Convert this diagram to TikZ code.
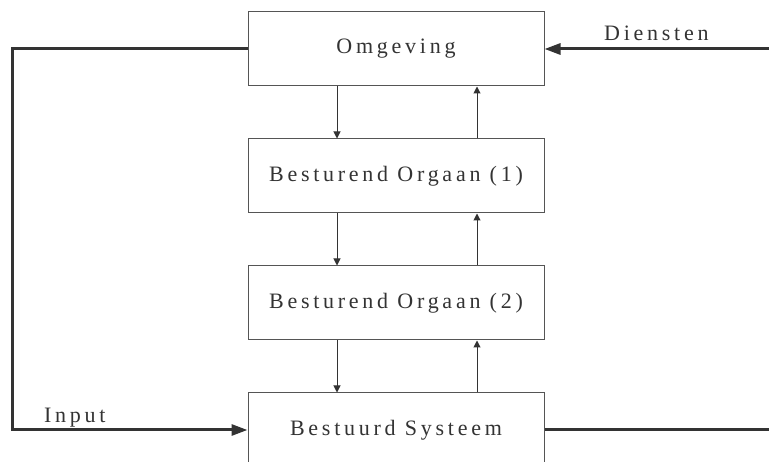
\documentclass[tikz,border=0pt]{standalone}
\usepackage{fontspec}
\setmainfont{Liberation Serif}[LetterSpace=17]
\usetikzlibrary{arrows.meta}
\definecolor{ink}{HTML}{333333}
\definecolor{frame}{HTML}{555555}
\begin{document}
\begin{tikzpicture}[x=1pt,y=-1pt,
  blok/.style={draw=frame,line width=1pt,minimum width=296pt,minimum height=74pt,
    inner sep=0pt,text=ink,font=\fontsize{22}{26}\selectfont},
  flow/.style={draw=ink,line width=1pt,-{Triangle[length=7pt,width=7pt]}},
  hoofd/.style={draw=ink,line width=3pt},
  hoofdpijl/.style={hoofd,-{Triangle[length=16pt,width=11pt]}},
  label/.style={text=ink,font=\fontsize{22}{26}\selectfont,inner sep=0pt,anchor=base west}]
\useasboundingbox (0,0) rectangle (769,462);
\clip (0,0) rectangle (769,462);
\fill[white] (0,0) rectangle (769,462);

% blocks
\node[blok] (omg) at (396,49) {Omgeving};
\node[blok] (bo1) at (396,176) {Besturend Orgaan (1)};
\node[blok] (bo2) at (396,303) {Besturend Orgaan (2)};
\node[blok] (bs)  at (396,430) {Bestuurd Systeem};

% free ends of the outer lines
\coordinate (links) at (12.7,49);
\coordinate (linksonder) at (12.7,430);
\coordinate (dienstin) at (770,49);
\coordinate (uitrechts) at (770,430);

% vertical control flows
\draw[flow] ([xshift=-59pt]omg.south) -- ([xshift=-59pt]bo1.north);
\draw[flow] ([xshift=-59pt]bo1.south) -- ([xshift=-59pt]bo2.north);
\draw[flow] ([xshift=-59pt]bo2.south) -- ([xshift=-59pt]bs.north);
\draw[flow] ([xshift=81pt]bs.north) -- ([xshift=81pt]bo2.south);
\draw[flow] ([xshift=81pt]bo2.north) -- ([xshift=81pt]bo1.south);
\draw[flow] ([xshift=81pt]bo1.north) -- ([xshift=81pt]omg.south);

% outer loop
\draw[hoofd,line join=miter] (omg.west) -- (links) -- (linksonder);
\draw[hoofdpijl] ([xshift=-1.5pt]linksonder) -- (bs.west);
\draw[hoofdpijl] (dienstin) -- (omg.east);
\draw[hoofd] (bs.east) -- (uitrechts);

% labels
\node[label] (lbldiensten) at (604,41) {Diensten};
\node[label] (lblinput) at (44,423) {Input};
\end{tikzpicture}
\end{document}
